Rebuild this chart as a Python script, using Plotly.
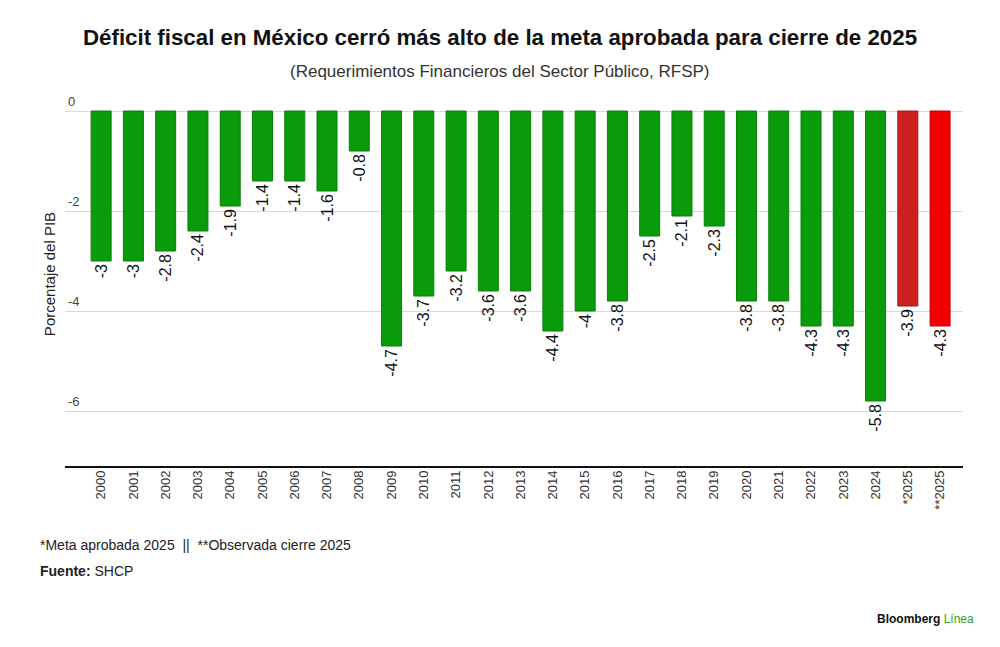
import plotly.graph_objects as go

categories = ["2000", "2001", "2002", "2003", "2004", "2005", "2006", "2007", "2008",
              "2009", "2010", "2011", "2012", "2013", "2014", "2015", "2016", "2017",
              "2018", "2019", "2020", "2021", "2022", "2023", "2024", "*2025", "**2025"]
values = [-3, -3, -2.8, -2.4, -1.9, -1.4, -1.4, -1.6, -0.8,
          -4.7, -3.7, -3.2, -3.6, -3.6, -4.4, -4, -3.8, -2.5,
          -2.1, -2.3, -3.8, -3.8, -4.3, -4.3, -5.8, -3.9, -4.3]
labels = [f"{v:g}" for v in values]

GREEN = "#0a9b0a"
colors = [GREEN] * 25 + ["#cc1f1f", "#f20000"]
line_colors = ["#078207"] * 25 + ["#a81818", "#c80000"]

FONT = "Liberation Sans, Arial"
OFF = 8  # page body margin
W, H = 1000 - OFF, 647 - OFF
l, r, t, b = 57, 37, 73, 180
pw, ph = W - l - r, H - t - b

fig = go.Figure(go.Bar(
    x=categories, y=values,
    marker=dict(color=colors, line=dict(color=line_colors, width=1)),
    width=0.62,
    text=labels, textposition="outside", textangle=-90,
    constraintext="none",
    textfont=dict(size=16, color="#111", family=FONT),
    cliponaxis=False,
))

fig.update_layout(
    width=W, height=H,
    paper_bgcolor="white", plot_bgcolor="white",
    margin=dict(l=l, r=r, t=t, b=b, pad=0),
    showlegend=False,
    font=dict(family=FONT, color="#222"),
    xaxis=dict(
        type="category", range=[-1.12, 26.71],
        tickangle=-90, tickfont=dict(size=13, color="#333"),
        showgrid=False, showline=False, ticks="",
    ),
    yaxis=dict(
        range=[-7.12, 0.6], tickvals=[0, -2, -4, -6], ticktext=["0", "-2", "-4", "-6"],
        ticklabelposition="inside top", tickfont=dict(size=13, color="#444"),
        showgrid=True, gridcolor="#d9d9d9", gridwidth=1, zeroline=False,
        title=dict(text="Porcentaje del PIB", font=dict(size=15, color="#222"), standoff=8),
        automargin=False,
    ),
    shapes=[dict(type="line", xref="paper", yref="paper", x0=0, x1=1, y0=0, y1=0,
                 line=dict(color="#111", width=2))],
)

# text placed by page pixel coords
specs = [
    ("<b>Déficit fiscal en México cerró más alto de la meta aprobada para cierre de 2025</b>",
     500, 37, "center", 22.3, "#111"),
    ("(Requerimientos Financieros del Sector Público, RFSP)", 500, 72, "center", 17, "#333"),
    ("*Meta aprobada 2025  ||  **Observada cierre 2025", 38, 545, "left", 14, "#222"),
    ("<b>Fuente:</b> SHCP", 38, 571, "left", 14, "#222"),
    ("<b>Bloomberg</b> <span style='color:#2aa52a'>Línea</span>", 976, 619, "right", 12, "#111"),
]
anns = []
for text, px, py, anchor, size, col in specs:
    fx, fy = px - OFF, py - OFF
    anns.append(dict(
        text=text, showarrow=False, xref="paper", yref="paper",
        x=(fx - l) / pw, y=1 - (fy - t) / ph,
        xanchor=anchor, yanchor="middle",
        font=dict(size=size, color=col, family=FONT),
    ))
fig.update_layout(annotations=anns)

fig.write_html("out.html")
